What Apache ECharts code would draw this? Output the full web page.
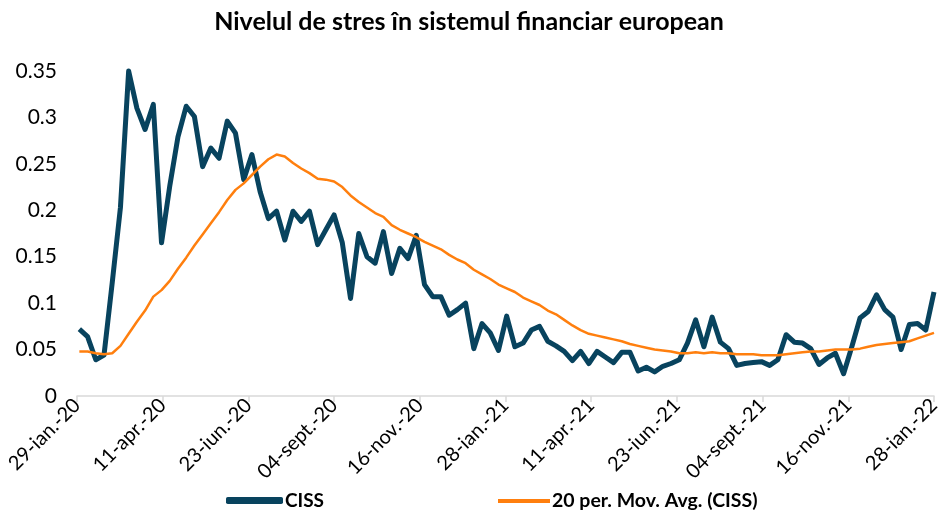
<!DOCTYPE html>
<html>
<head>
<meta charset="utf-8">
<script src="https://cdn.jsdelivr.net/npm/echarts@6/dist/echarts.min.js"></script>
<style>html,body{margin:0;padding:0;background:#fff;}#c{width:938px;height:513px;}</style>
</head>
<body>
<div id="c"></div>
<script>
const titleText = 'Nivelul de stres în sistemul financiar european';
const seriesNames = ['CISS', '20 per. Mov. Avg. (CISS)'];
// x-axis tick labels (every 73 days from 29-Jan-2020)
const tickLabels = ['29-ian.-20','11-apr.-20','23-iun.-20','04-sept.-20','16-nov.-20','28-ian.-21','11-apr.-21','23-iun.-21','04-sept.-21','16-nov.-21','28-ian.-22'];
const axisStart = '2020-01-29';
const firstObs = '2020-01-31'; // weekly observations (Fridays) to 28-Jan-2022
// CISS weekly values
const ciss = [
 0.072,0.064,0.039,0.044,0.122,0.203,0.350,0.310,0.287,0.314,
 0.165,0.226,0.279,0.312,0.301,0.247,0.267,0.256,0.296,0.283,
 0.233,0.260,0.220,0.191,0.199,0.168,0.199,0.188,0.199,0.163,
 0.179,0.195,0.165,0.105,0.175,0.150,0.143,0.177,0.132,0.159,
 0.148,0.173,0.120,0.107,0.107,0.087,0.093,0.100,0.051,0.078,
 0.068,0.049,0.086,0.053,0.057,0.071,0.075,0.059,0.054,0.048,
 0.038,0.048,0.035,0.048,0.042,0.036,0.047,0.047,0.027,0.031,
 0.026,0.032,0.035,0.039,0.057,0.082,0.053,0.085,0.058,0.051,
 0.033,0.035,0.036,0.037,0.033,0.039,0.066,0.058,0.057,0.051,
 0.034,0.041,0.046,0.024,0.053,0.084,0.091,0.109,0.093,0.085,
 0.050,0.077,0.078,0.071,0.112
];
// 20-period moving average
const movAvg = [
 0.048,0.048,0.046,0.045,0.046,0.054,0.067,0.080,0.092,0.107,
 0.114,0.124,0.137,0.149,0.162,0.174,0.186,0.198,0.211,0.222,
 0.229,0.238,0.247,0.255,0.260,0.258,0.251,0.245,0.240,0.234,
 0.233,0.231,0.225,0.216,0.209,0.203,0.197,0.193,0.184,0.179,
 0.175,0.171,0.166,0.162,0.158,0.152,0.147,0.143,0.136,0.131,
 0.126,0.120,0.116,0.112,0.106,0.102,0.098,0.092,0.088,0.082,
 0.076,0.071,0.067,0.065,0.063,0.061,0.059,0.056,0.054,0.052,
 0.050,0.049,0.048,0.046,0.046,0.047,0.046,0.047,0.046,0.046,
 0.045,0.045,0.045,0.044,0.044,0.044,0.045,0.046,0.047,0.048,
 0.048,0.049,0.050,0.050,0.050,0.051,0.053,0.055,0.056,0.057,
 0.058,0.059,0.062,0.065,0.068
];

const DAY = 86400000;
const t0 = Date.parse(axisStart + 'T00:00:00Z');
const t1 = Date.parse(firstObs + 'T00:00:00Z');
const dayOffsets = ciss.map((_, i) => Math.round((t1 + i * 7 * DAY - t0) / DAY));
const cissData = ciss.map((v, i) => [dayOffsets[i], v]);
const maData = movAvg.map((v, i) => [dayOffsets[i], v]);

const FONT = 'Lato, "Liberation Sans", sans-serif';
const chart = echarts.init(document.getElementById('c'), null, {renderer: 'canvas'});
chart.setOption({
  animation: false,
  backgroundColor: '#ffffff',
  title: {
    text: titleText, left: 'center', top: 4,
    textStyle: {fontFamily: FONT, fontWeight: 'bold', fontSize: 25, color: '#000'}
  },
  legend: [
    {data: [{name: seriesNames[0], icon: 'roundRect'}], left: 221, top: 486, itemWidth: 57, itemHeight: 7, itemGap: 0,
     textStyle: {fontFamily: FONT, fontWeight: 'bold', fontSize: 19, color: '#000', padding: [0,0,0,-3]}},
    {data: [{name: seriesNames[1], icon: 'rect'}], left: 493, top: 486, itemWidth: 52, itemHeight: 4, itemGap: 0,
     textStyle: {fontFamily: FONT, fontWeight: 'bold', fontSize: 19.5, color: '#000', padding: [0,0,0,-3]}}
  ],
  grid: {left: 77, right: 4, top: 71, bottom: 117, containLabel: false, outerBoundsMode: 'none'},
  xAxis: {
    type: 'value', min: 0, max: 730, interval: 73,
    splitLine: {show: false},
    axisLine: {show: true, lineStyle: {color: '#d9d9d9', width: 1.5}},
    axisTick: {show: true, length: 6, lineStyle: {color: '#d9d9d9', width: 1.5}},
    axisLabel: {
      rotate: 45, fontFamily: FONT, fontSize: 20, color: '#000', margin: 6,
      formatter: v => tickLabels[Math.round(v / 73)] || ''
    }
  },
  yAxis: {
    type: 'value', min: 0, max: 0.35, interval: 0.05,
    splitLine: {show: false},
    axisLine: {show: false}, axisTick: {show: false},
    axisLabel: {fontFamily: FONT, fontSize: 21, color: '#000', margin: 20}
  },
  series: [
    {name: seriesNames[0], type: 'line', data: cissData, showSymbol: false, symbol: 'none',
     clip: false, lineStyle: {color: '#08435E', width: 5, join: 'round'}, itemStyle: {color: '#08435E'}, z: 2},
    {name: seriesNames[1], type: 'line', data: maData, showSymbol: false, symbol: 'none',
     clip: false, lineStyle: {color: '#FF7F0E', width: 2.5}, itemStyle: {color: '#FF7F0E'}, z: 3}
  ]
});
</script>
</body>
</html>
